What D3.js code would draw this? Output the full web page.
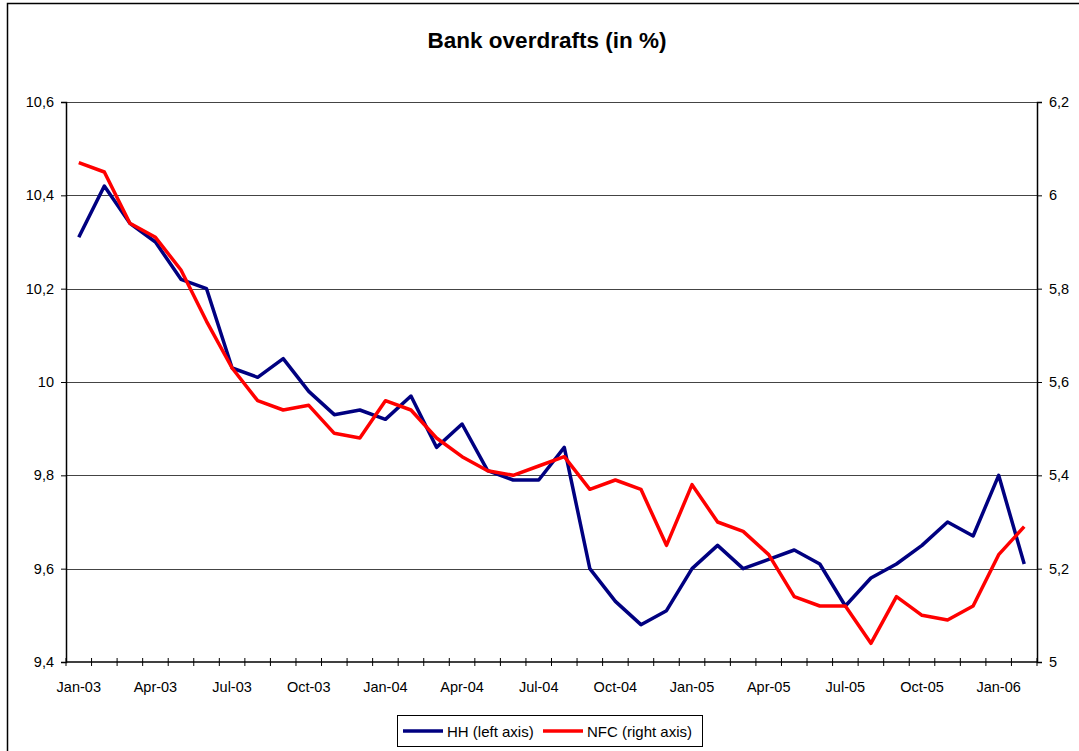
<html>
<head>
<title>Bank overdrafts</title>
<script src="https://d3js.org/d3.v7.min.js"></script>
<style>
  body { margin: 0; background: #fff; }
  text { font-family: Arial, "Liberation Sans", sans-serif; fill: #000; }
</style>
</head>
<body>
<div id="chart"></div>
<script>

// monthly categories Jan-03 .. Feb-06
var months = ["Jan-03","Feb-03","Mar-03","Apr-03","May-03","Jun-03","Jul-03","Aug-03","Sep-03","Oct-03","Nov-03","Dec-03",
              "Jan-04","Feb-04","Mar-04","Apr-04","May-04","Jun-04","Jul-04","Aug-04","Sep-04","Oct-04","Nov-04","Dec-04",
              "Jan-05","Feb-05","Mar-05","Apr-05","May-05","Jun-05","Jul-05","Aug-05","Sep-05","Oct-05","Nov-05","Dec-05",
              "Jan-06","Feb-06"];

// households, left axis
var hh = [10.31,10.42,10.34,10.30,10.22,10.20,10.03,10.01,10.05,9.98,9.93,9.94,
          9.92,9.97,9.86,9.91,9.81,9.79,9.79,9.86,9.60,9.53,9.48,9.51,
          9.60,9.65,9.60,9.62,9.64,9.61,9.52,9.58,9.61,9.65,9.70,9.67,
          9.80,9.61];

// non-financial corporations, right axis
var nfc = [6.07,6.05,5.94,5.91,5.84,5.73,5.63,5.56,5.54,5.55,5.49,5.48,
           5.56,5.54,5.48,5.44,5.41,5.40,5.42,5.44,5.37,5.39,5.37,5.25,
           5.38,5.30,5.28,5.23,5.14,5.12,5.12,5.04,5.14,5.10,5.09,5.12,
           5.23,5.29];

var xLabels = ["Jan-03","Apr-03","Jul-03","Oct-03","Jan-04","Apr-04","Jul-04","Oct-04","Jan-05","Apr-05","Jul-05","Oct-05","Jan-06"];
var leftTicks = [9.4,9.6,9.8,10,10.2,10.4,10.6];
var rightTicks = [5,5.2,5.4,5.6,5.8,6,6.2];

var W = 1079, H = 751;
var margin = {top: 102, right: 42, bottom: 89, left: 66};
var width = W - margin.left - margin.right,
    height = H - margin.top - margin.bottom;

var fmt = function(d) { return String(d).replace(".", ","); };

var svg = d3.select("#chart").append("svg")
  .attr("width", W)
  .attr("height", H);

// outer chart border
svg.append("rect")
  .attr("x", 7.5).attr("y", 3.5)
  .attr("width", W + 10).attr("height", H + 10)
  .attr("fill", "none")
  .attr("stroke", "#000")
  .attr("stroke-width", 1.5);

svg.append("text")
  .attr("x", 547).attr("y", 48)
  .attr("text-anchor", "middle")
  .style("font-size", "22.5px")
  .style("font-weight", "bold")
  .text("Bank overdrafts (in %)");

var g = svg.append("g")
  .attr("transform", "translate(" + margin.left + "," + margin.top + ")");

var x = d3.scaleBand().domain(months).range([0, width]);
var yL = d3.scaleLinear().domain([9.4, 10.6]).range([height, 0]);
var yR = d3.scaleLinear().domain([5, 6.2]).range([height, 0]);

// gridlines
g.selectAll("line.grid").data(leftTicks.slice(1)).enter().append("line")
  .attr("class", "grid")
  .attr("x1", 0).attr("x2", width)
  .attr("y1", function(d) { return Math.round(yL(d)) + 0.5; })
  .attr("y2", function(d) { return Math.round(yL(d)) + 0.5; })
  .attr("stroke", "#444")
  .attr("stroke-width", 1.2);

// left axis
var axL = g.append("g")
  .call(d3.axisLeft(yL).tickValues(leftTicks).tickFormat(fmt).tickSize(5).tickPadding(7));
// right axis
var axR = g.append("g")
  .attr("transform", "translate(" + width + ",0)")
  .call(d3.axisRight(yR).tickValues(rightTicks).tickFormat(fmt).tickSize(5).tickPadding(7));

[axL, axR].forEach(function(a) {
  a.select(".domain").attr("stroke", "#000").attr("stroke-width", 1.5);
  a.selectAll("line").attr("stroke", "#000");
  a.selectAll("text").style("font-size", "14.5px").attr("fill", "#000");
});

// bottom axis: ticks between categories, labels every 3 months
var axB = g.append("g").attr("transform", "translate(0," + height + ")");
axB.append("line")
  .attr("x1", 0).attr("x2", width)
  .attr("y1", 0).attr("y2", 0)
  .attr("stroke", "#000").attr("stroke-width", 1.5);
var tickPos = months.map(function(m) { return x(m); }).concat([width]);
axB.selectAll("line.tk").data(tickPos).enter().append("line")
  .attr("class", "tk")
  .attr("x1", function(d) { return d; }).attr("x2", function(d) { return d; })
  .attr("y1", -4).attr("y2", 4)
  .attr("stroke", "#000");
axB.selectAll("text").data(xLabels).enter().append("text")
  .attr("x", function(d) { return x(d) + x.bandwidth() / 2; })
  .attr("y", 30)
  .attr("text-anchor", "middle")
  .style("font-size", "14.5px")
  .text(function(d) { return d; });

var lineL = d3.line()
  .x(function(d, i) { return x(months[i]) + x.bandwidth() / 2; })
  .y(function(d) { return yL(d); });
var lineR = d3.line()
  .x(function(d, i) { return x(months[i]) + x.bandwidth() / 2; })
  .y(function(d) { return yR(d); });

g.append("path")
  .attr("d", lineL(hh))
  .attr("fill", "none")
  .attr("stroke", "#000080")
  .attr("stroke-width", 3.5)
  .attr("stroke-linejoin", "round");

g.append("path")
  .attr("d", lineR(nfc))
  .attr("fill", "none")
  .attr("stroke", "#ff0000")
  .attr("stroke-width", 3.5)
  .attr("stroke-linejoin", "round");

// legend
var leg = svg.append("g");
leg.append("rect")
  .attr("x", 397.5).attr("y", 715.5)
  .attr("width", 305).attr("height", 31)
  .attr("fill", "#fff").attr("stroke", "#000").attr("stroke-width", 1);
var items = [{name: "HH (left axis)", color: "#000080", x: 403},
             {name: "NFC (right axis)", color: "#ff0000", x: 543}];
items.forEach(function(it) {
  leg.append("line")
    .attr("x1", it.x).attr("x2", it.x + 40)
    .attr("y1", 731).attr("y2", 731)
    .attr("stroke", it.color).attr("stroke-width", 3.5);
  leg.append("text")
    .attr("x", it.x + 44).attr("y", 736.5)
    .style("font-size", "15px")
    .text(it.name);
});

</script>
</body>
</html>
